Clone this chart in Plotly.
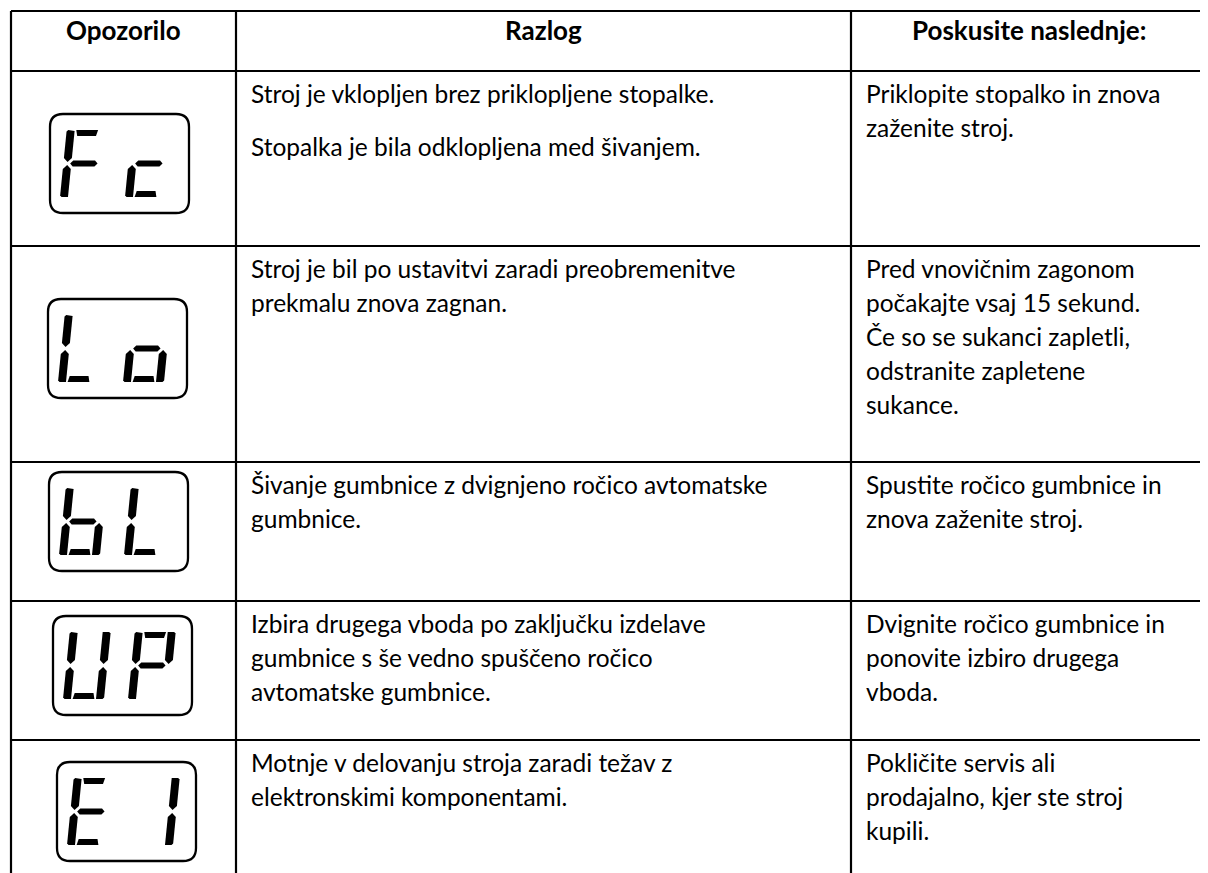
import plotly.graph_objects as go

# ---------------- data ----------------
headers = ["Opozorilo", "Razlog", "Poskusite naslednje:"]
codes = ["Fc", "Lo", "bL", "UP", "E1"]
reasons = [
    [["Stroj je vklopljen brez priklopljene stopalke."], ["Stopalka je bila odklopljena med šivanjem."]],
    [["Stroj je bil po ustavitvi zaradi preobremenitve", "prekmalu znova zagnan."]],
    [["Šivanje gumbnice z dvignjeno ročico avtomatske", "gumbnice."]],
    [["Izbira drugega vboda po zaključku izdelave", "gumbnice s še vedno spuščeno ročico", "avtomatske gumbnice."]],
    [["Motnje v delovanju stroja zaradi težav z", "elektronskimi komponentami."]],
]
remedies = [
    [["Priklopite stopalko in znova", "zaženite stroj."]],
    [["Pred vnovičnim zagonom", "počakajte vsaj 15 sekund.", "Če so se sukanci zapletli,",
      "odstranite zapletene", "sukance."]],
    [["Spustite ročico gumbnice in", "znova zaženite stroj."]],
    [["Dvignite ročico gumbnice in", "ponovite izbiro drugega", "vboda."]],
    [["Pokličite servis ali", "prodajalno, kjer ste stroj", "kupili."]],
]

# ---------------- layout ----------------
WIN_W, WIN_H = 1208, 873
OFF = 8  # default page margin of the html body
col_x = [11, 236, 851, WIN_W + 20]
row_y = [11, 71, 246, 462, 601, 740, WIN_H + 20]
icon_left = [50, 48, 49, 53, 57]
icon_top = [114, 299, 472, 616, 762]
FONT = "Lato"
FSIZE = 24.5
HSIZE = 26
LINE_H = 34
PARA_GAP = 19
PAD_X = 13
FIRST_DY = 22
HEAD_Y = 30

SEGS = {'F': 'aefg', 'c': 'deg', 'L': 'def', 'o': 'cdeg', 'b': 'cdefg',
        'U': 'bcdef', 'P': 'abefg', 'E': 'adefg', '1': 'bc'}

DW, DH, TV, TH, GAP, SL = 41.0, 67.0, 8.0, 6.0, 1.6, 0.1
M = DH / 2


def seg_polys():
    return {
        'a': [(TV + GAP, DH), (DW - TV - GAP, DH), (DW - TV - GAP - 1.5, DH - TH), (TV + GAP + 1.5, DH - TH)],
        'd': [(TV + GAP + 1.5, TH), (DW - TV - GAP - 1.5, TH), (DW - TV - GAP, 0), (TV + GAP, 0)],
        'f': [(0, M + GAP + TV / 2), (TV / 2, M + GAP), (TV, M + GAP + TV / 2), (TV, DH - 1), (1.5, DH), (0, DH - 1.5)],
        'e': [(0, 1.5), (1.5, 0), (TV, 0), (TV, M - GAP - TV / 2), (TV / 2, M - GAP), (0, M - GAP - TV / 2)],
        'b': [(DW - TV, M + GAP + TV / 2), (DW - TV / 2, M + GAP), (DW, M + GAP + TV / 2), (DW, DH - 1.5),
              (DW - 1.5, DH), (DW - TV, DH)],
        'c': [(DW - TV, 0), (DW - 1.5, 0), (DW, 1.5), (DW, M - GAP - TV / 2), (DW - TV / 2, M - GAP),
              (DW - TV, M - GAP - TV / 2)],
        'g': [(TV / 2 + GAP + 1.2, M), (TV + GAP, M + TH / 2), (DW - TV - GAP, M + TH / 2),
              (DW - TV / 2 - GAP - 1.2, M), (DW - TV - GAP, M - TH / 2), (TV + GAP, M - TH / 2)],
    }


POLYS = seg_polys()


def poly_path(pts, x0, y0):
    s = ""
    for i, (u, v) in enumerate(pts):
        x = x0 + u + SL * v
        y = y0 - v
        s += ("M" if i == 0 else "L") + f"{x:.2f},{y:.2f} "
    return s + "Z"


def rounded_rect(x0, y0, x1, y1, r):
    return (f"M{x0 + r},{y0} L{x1 - r},{y0} Q{x1},{y0} {x1},{y0 + r} "
            f"L{x1},{y1 - r} Q{x1},{y1} {x1 - r},{y1} L{x0 + r},{y1} "
            f"Q{x0},{y1} {x0},{y1 - r} L{x0},{y0 + r} Q{x0},{y0} {x0 + r},{y0} Z")


shapes = []
annotations = []
LINE = dict(color="black", width=2.2)

# grid lines
for y in row_y[:-1]:
    shapes.append(dict(type="line", x0=col_x[0], x1=col_x[-1], y0=y, y1=y, line=LINE, layer="above"))
for x in col_x[:-1]:
    shapes.append(dict(type="line", x0=x, x1=x, y0=row_y[0], y1=row_y[-1], line=LINE, layer="above"))

# headers
head_centers = [(11 + 236) / 2, (236 + 851) / 2, (851 + 1206) / 2]
for i, h in enumerate(headers):
    annotations.append(dict(x=head_centers[i], y=HEAD_Y, text=f"<b>{h}</b>", showarrow=False, xanchor="center",
                            yanchor="middle", font=dict(family=FONT, size=HSIZE, color="black")))


def add_cell(paras, x, ytop):
    y = ytop + FIRST_DY
    for pi, para in enumerate(paras):
        if pi > 0:
            y += PARA_GAP
        for line in para:
            annotations.append(dict(x=x, y=y, text=line, showarrow=False, xanchor="left", yanchor="middle",
                                    font=dict(family=FONT, size=FSIZE, color="black")))
            y += LINE_H


for r in range(len(codes)):
    top = row_y[r + 1]
    add_cell(reasons[r], col_x[1] + PAD_X, top)
    add_cell(remedies[r], col_x[2] + PAD_X, top)
    # icon
    bx, by = icon_left[r], icon_top[r]
    shapes.append(dict(type="path", path=rounded_rect(bx, by, bx + 139, by + 99, 13),
                       line=dict(color="black", width=2.3), fillcolor="white", layer="above"))
    for di, ch in enumerate(codes[r]):
        x0 = bx + 10 + di * 65
        y0 = by + 83
        for sg in SEGS[ch]:
            shapes.append(dict(type="path", path=poly_path(POLYS[sg], x0, y0), fillcolor="black",
                               line=dict(width=0), layer="above"))

FIG_W, FIG_H = WIN_W - OFF, WIN_H - OFF
fig = go.Figure()
fig.add_trace(go.Scatter(x=[OFF, WIN_W], y=[OFF, WIN_H], mode="markers", marker=dict(opacity=0),
                         hoverinfo="skip", showlegend=False))
fig.update_layout(
    width=FIG_W, height=FIG_H, margin=dict(l=0, r=0, t=0, b=0),
    paper_bgcolor="white", plot_bgcolor="white",
    xaxis=dict(range=[OFF, WIN_W], visible=False, fixedrange=True),
    yaxis=dict(range=[WIN_H, OFF], visible=False, fixedrange=True),
    shapes=shapes, annotations=annotations, showlegend=False,
)
fig.write_html("out.html")
